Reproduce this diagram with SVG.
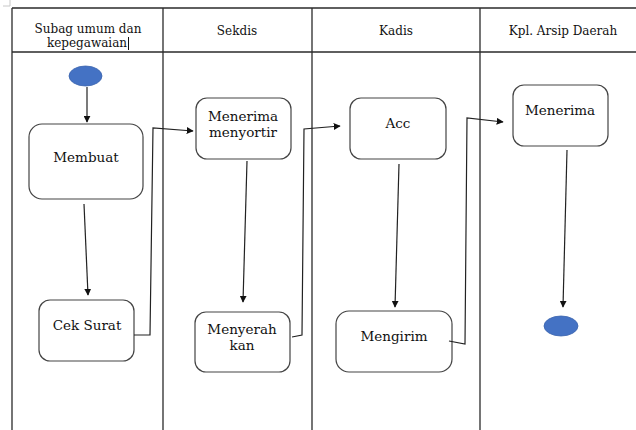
<svg xmlns="http://www.w3.org/2000/svg" width="636" height="430" viewBox="0 0 636 430">
  <style>
    .grid { stroke: #2b2b2b; stroke-width: 1.3; fill: none; }
    .head { font-family: 'DejaVu Serif', 'Liberation Serif', serif; font-size: 12px; fill: #111; text-anchor: middle; }
    .box rect { fill: #fff; stroke: #444; stroke-width: 1.2; }
    .box text { font-family: 'DejaVu Serif', 'Liberation Serif', serif; font-size: 13.5px; fill: #111; text-anchor: middle; }
    .dot { fill: #4472c4; stroke: #3a63ad; stroke-width: 0.8; }
    .conn path { stroke: #222; stroke-width: 1.2; fill: none; }
  </style>
  <defs>
    <marker id="arrow" viewBox="0 0 10 10" refX="9" refY="5" markerWidth="7" markerHeight="7" orient="auto" markerUnits="userSpaceOnUse">
      <path d="M0,0 L10,5 L0,10 Z" fill="#111"/>
    </marker>
  </defs>
  <rect width="636" height="430" fill="#fff"/>

  <!-- corner mark -->
  <path d="M3,6 H10 V0" stroke="#c8c8c8" stroke-width="1" fill="none"/>

  <!-- swimlane table -->
  <g id="lanes">
    <path class="grid" d="M12,8 H636 M12,52 H636 M12,8 V430 M163,8 V430 M312,8 V430 M480,8 V430"/>
    <text class="head" x="88" y="33">Subag umum dan</text>
    <text class="head" x="87" y="47">kepegawaian</text>
    <line x1="128.5" y1="37" x2="128.5" y2="50" stroke="#111" stroke-width="1"/>
    <text class="head" x="237" y="35">Sekdis</text>
    <text class="head" x="396" y="35">Kadis</text>
    <text class="head" x="563" y="35">Kpl. Arsip Daerah</text>
  </g>

  <g id="start"><ellipse class="dot" cx="85.5" cy="76" rx="16.5" ry="10"/></g>

  <g id="membuat" class="box">
    <rect x="29" y="124" width="114" height="75" rx="13"/>
    <text x="86" y="162">Membuat</text>
  </g>

  <g id="cek-surat" class="box">
    <rect x="39" y="300" width="95" height="61" rx="11"/>
    <text x="87" y="330">Cek Surat</text>
  </g>

  <g id="menerima-menyortir" class="box">
    <rect x="196" y="98" width="95" height="61" rx="11"/>
    <text x="243" y="121">Menerima</text>
    <text x="243" y="137">menyortir</text>
  </g>

  <g id="menyerahkan" class="box">
    <rect x="195" y="312" width="95" height="60" rx="11"/>
    <text x="242" y="334">Menyerah</text>
    <text x="242" y="350">kan</text>
  </g>

  <g id="acc" class="box">
    <rect x="350" y="98" width="96" height="61" rx="11"/>
    <text x="398" y="128">Acc</text>
  </g>

  <g id="mengirim" class="box">
    <rect x="336" y="311" width="116" height="61" rx="13"/>
    <text x="394" y="341">Mengirim</text>
  </g>

  <g id="menerima-arsip" class="box">
    <rect x="513" y="85" width="95" height="61" rx="11"/>
    <text x="560" y="115">Menerima</text>
  </g>

  <g id="end"><ellipse class="dot" cx="561" cy="326" rx="17" ry="10"/></g>

  <g id="connectors" class="conn">
    <path d="M87,87 V122" marker-end="url(#arrow)"/>
    <path d="M84,204 L88,295" marker-end="url(#arrow)"/>
    <path d="M134,335 H150 L153,128 L193,131" marker-end="url(#arrow)"/>
    <path d="M247,161 L243,302" marker-end="url(#arrow)"/>
    <path d="M292,337 L302,335 L304,129 L340,126" marker-end="url(#arrow)"/>
    <path d="M399,164 L395,307" marker-end="url(#arrow)"/>
    <path d="M449,341 L465,344 L467,118 L503,122" marker-end="url(#arrow)"/>
    <path d="M567,150 L563,307" marker-end="url(#arrow)"/>
  </g>
</svg>
